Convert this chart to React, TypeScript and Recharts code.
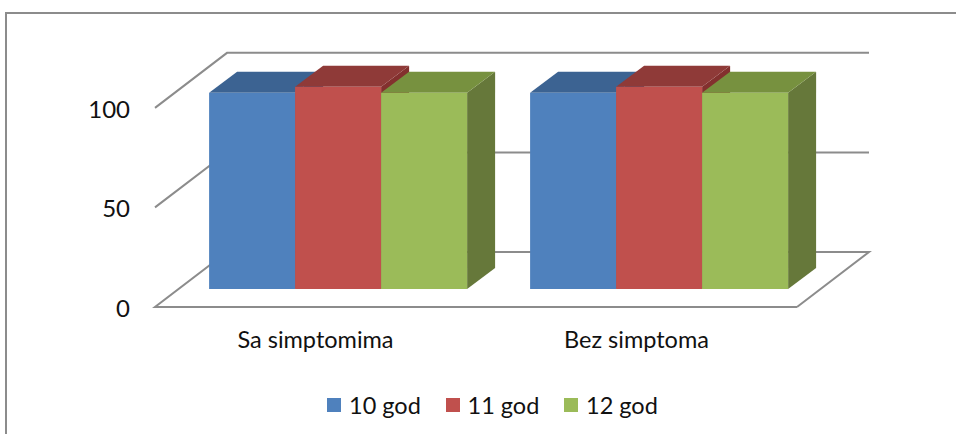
import { BarChart, Bar, XAxis, YAxis, CartesianGrid, Legend } from 'recharts';

const categories = ['Sa simptomima', 'Bez simptoma'];
const god10 = [98.5, 98.5];
const god11 = [101.5, 101.5];
const god12 = [98.5, 98.5];
const seriesNames = ['10 god', '11 god', '12 god'];
const yTicks = [0, 50, 100];

const data = categories.map((name, i) => ({
  name,
  g10: god10[i],
  g11: god11[i],
  g12: god12[i],
}));

const FONT = 'Lato, "Noto Sans", sans-serif';
const GRID = '#8c8c8c';

const W = 956;
const H = 434;
const MARGIN = { top: 50, right: 137, bottom: 115, left: 117 };
const X_AXIS_H = 30;
const PLOT_TOP = MARGIN.top;
const PLOT_BOTTOM = H - MARGIN.bottom - X_AXIS_H;

// fake 3d: floor depth (front edge -> back wall), where the bars stand in it, bar depth
const FLOOR_DX = 72;
const FLOOR_DY = 55;
const BAR_OFF_X = 22;
const BAR_OFF_Y = 18;
const BAR_DX = 28;
const BAR_DY = 21;

const faces = [
  { front: '#4F81BD', top: '#3C6392', side: '#365A86' },
  { front: '#C0504D', top: '#8F3A38', side: '#83302E' },
  { front: '#9BBB59', top: '#77913F', side: '#66783A' },
];

function boxShape(c: { front: string; top: string; side: string }) {
  return (props: any) => {
    const { x, y, width, height } = props;
    const r = x + width;
    const b = y + height;
    const side = `${r},${y} ${r + BAR_DX},${y - BAR_DY} ${r + BAR_DX},${b - BAR_DY} ${r},${b}`;
    const top = `${x},${y} ${x + BAR_DX},${y - BAR_DY} ${r + BAR_DX},${y - BAR_DY} ${r},${y}`;
    return (
      <g>
        <polygon points={side} fill={c.side} />
        <polygon points={top} fill={c.top} />
        <rect x={x} y={y} width={width} height={height} fill={c.front} />
      </g>
    );
  };
}

function gridLine(props: any) {
  const { x1, x2, y1, index } = props;
  if (y1 < PLOT_TOP + 1) return <g key={`g-${index}`} />;
  const fl = x1 - BAR_OFF_X;
  const fr = x2 - BAR_OFF_X;
  const fy = y1 + BAR_OFF_Y;
  const by = fy - FLOOR_DY;
  const isFloor = y1 > PLOT_BOTTOM - 1;
  const pts = isFloor
    ? `${fr},${fy} ${fl},${fy} ${fl + FLOOR_DX},${by} ${fr + FLOOR_DX},${by} ${fr},${fy}`
    : `${fl},${fy} ${fl + FLOOR_DX},${by} ${fr + FLOOR_DX},${by}`;
  return <polyline key={`g-${index}`} points={pts} fill="none" stroke={GRID} strokeWidth={2} />;
}

function YTick(props: any) {
  const { y, payload } = props;
  return (
    <text x={130} y={y + BAR_OFF_Y + 10} textAnchor="end" fontFamily={FONT} fontSize={24} fill="#111">
      {payload.value}
    </text>
  );
}

function XTick(props: any) {
  const { x, payload } = props;
  return (
    <text x={x - BAR_OFF_X} y={348} textAnchor="middle" fontFamily={FONT} fontSize={23.5} fill="#111">
      {payload.value}
    </text>
  );
}

function LegendBox() {
  return (
    <div style={{ display: 'flex', fontFamily: FONT, fontSize: 23.5, color: '#111' }}>
      {seriesNames.map((n, i) => (
        <div key={n} style={{ display: 'flex', alignItems: 'center', width: 118.5, height: 28 }}>
          <span style={{ width: 14, height: 14, background: faces[i].front, marginRight: 8 }} />
          {n}
        </div>
      ))}
    </div>
  );
}

export default function App() {
  return (
    <div style={{ position: 'absolute', left: 0, top: 0, width: W, height: H, overflow: 'hidden', background: '#fff' }}>
      <div
        style={{
          position: 'absolute',
          left: 5,
          top: 12,
          width: 1000,
          height: 500,
          border: `2px solid ${GRID}`,
        }}
      />
      <div style={{ position: 'absolute', left: 0, top: 0 }}>
        <BarChart
          width={W}
          height={H}
          data={data}
          margin={MARGIN}
          barCategoryGap="10%"
          barGap={0}
        >
          <CartesianGrid vertical={false} horizontal={gridLine} />
          <XAxis dataKey="name" axisLine={false} tickLine={false} tick={<XTick />} height={X_AXIS_H} />
          <YAxis
            domain={[0, 120]}
            ticks={yTicks}
            axisLine={false}
            tickLine={false}
            tick={<YTick />}
            width={60}
          />
          <Legend
            layout="horizontal"
            verticalAlign="middle"
            align="center"
            content={<LegendBox />}
            wrapperStyle={{ left: 327, top: 391, width: 'auto' }}
          />
          <Bar dataKey="g10" name={seriesNames[0]} fill={faces[0].front} shape={boxShape(faces[0])} isAnimationActive={false} />
          <Bar dataKey="g11" name={seriesNames[1]} fill={faces[1].front} shape={boxShape(faces[1])} isAnimationActive={false} />
          <Bar dataKey="g12" name={seriesNames[2]} fill={faces[2].front} shape={boxShape(faces[2])} isAnimationActive={false} />
        </BarChart>
      </div>
    </div>
  );
}
